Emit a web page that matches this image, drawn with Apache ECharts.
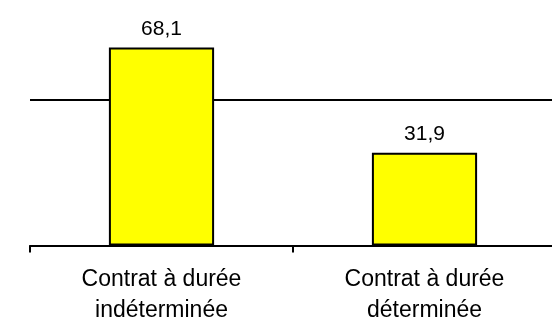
<!DOCTYPE html>
<html>
<head>
<meta charset="utf-8">
<script src="https://cdn.jsdelivr.net/npm/echarts@6/dist/echarts.min.js"></script>
<style>html,body{margin:0;padding:0;background:#fff}#c{width:552px;height:322px}</style>
</head>
<body>
<div id="c"></div>
<script>
const categories = ["Contrat à durée\nindéterminée", "Contrat à durée\ndéterminée"];
const values = [68.1, 31.9];
const valueLabels = ["68,1", "31,9"];

const chart = echarts.init(document.getElementById('c'), null, {renderer: 'canvas'});
chart.setOption({
  animation: false,
  backgroundColor: '#ffffff',
  grid: {left: 30, right: -4, top: 0, bottom: 76.5, containLabel: false, outerBoundsMode: 'none'},
  xAxis: {
    type: 'category',
    data: categories,
    axisLine: {lineStyle: {color: '#000', width: 2}},
    axisTick: {show: true, alignWithLabel: false, length: 7, lineStyle: {color: '#000', width: 2}},
    axisLabel: {color: '#000', fontFamily: 'Liberation Sans', fontSize: 23, lineHeight: 31, margin: 19}
  },
  yAxis: {
    type: 'value', min: 0, max: 84.4, interval: 50,
    axisLine: {show: false}, axisTick: {show: false}, axisLabel: {show: false},
    splitLine: {show: true, showMaxLine: false, lineStyle: {color: '#000', width: 2}}
  },
  series: [{
    type: 'bar',
    data: values,
    barWidth: '40%',
    itemStyle: {color: '#ffff00', borderColor: '#000', borderWidth: 2},
    label: {
      show: true, position: 'top', distance: 8,
      color: '#000', fontFamily: 'Liberation Sans', fontSize: 21,
      formatter: p => valueLabels[p.dataIndex]
    }
  }]
});
</script>
</body>
</html>
